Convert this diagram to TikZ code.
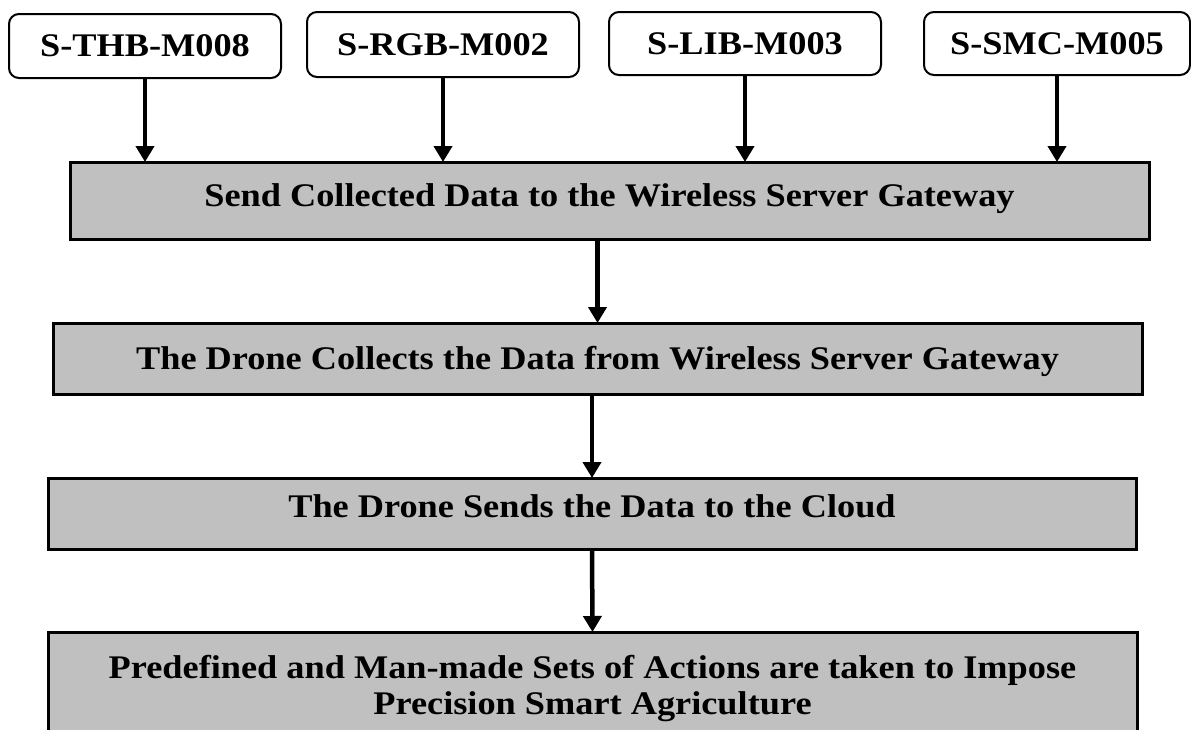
\documentclass[tikz,border=0pt]{standalone}
\usepackage{fontspec}
\setmainfont[FakeStretch=1.1]{Liberation Serif}
\usetikzlibrary{arrows.meta}
\begin{document}
\begin{tikzpicture}[x=1pt,y=-1pt,
  every node/.style={font=\fontsize{33}{38}\selectfont\bfseries, inner sep=0pt, outer sep=0pt},
  sensor/.style={draw=black, line width=2pt, rounded corners=10pt, fill=white, minimum height=64pt},
  stage/.style={draw=black, line width=3pt, fill=graybox, align=center},
  arr/.style={line width=4.5pt, -{Triangle[width=18pt,length=16pt]}}]
\definecolor{graybox}{HTML}{C0C0C0}
\useasboundingbox (0,0) rectangle (1191,729);
\fill[white] (0,0) rectangle (1191,729);
% sensor boxes
\node[sensor, minimum width=272pt] (t1) at (145,46) {S-THB-M008};
\node[sensor, minimum width=272pt, minimum height=65pt] (t2) at (443,44.5) {S-RGB-M002};
\node[sensor, minimum width=272pt, minimum height=63pt] (t3) at (745,43.5) {S-LIB-M003};
\node[sensor, minimum width=266pt, minimum height=63pt] (t4) at (1057,43.5) {S-SMC-M005};
% stage boxes
\node[stage, minimum width=1079pt, minimum height=77pt] (g1) at (609.5,200.5) {\raisebox{-5.5pt}[0pt][0pt]{Send Collected Data to the Wireless Server Gateway}};
\node[stage, minimum width=1089pt, minimum height=71pt] (g2) at (597.5,358.5) {\raisebox{-10.5pt}[0pt][0pt]{The Drone Collects the Data from Wireless Server Gateway}};
\node[stage, minimum width=1088pt, minimum height=71pt] (g3) at (592,513.5) {\raisebox{-4pt}[0pt][0pt]{The Drone Sends the Data to the Cloud}};
\node[stage, minimum width=1089pt, minimum height=120pt] (g4) at (592.5,692) {\raisebox{14pt}[0pt][0pt]{\parbox[t]{1050pt}{\centering Predefined and Man-made Sets of Actions are taken to Impose\\[-2pt] Precision Smart Agriculture}}};
% connectors
\draw[arr] (t1.south) -- (t1.south |- g1.north);
\draw[arr] (t2.south) -- (t2.south |- g1.north);
\draw[arr] (t3.south) -- (t3.south |- g1.north);
\draw[arr] (t4.south) -- (t4.south |- g1.north);
\draw[arr] (g1.south -| g2.north) -- (g2.north);
\draw[arr] (g2.south -| g3.north) -- (g3.north);
\draw[arr] (g3.south) -- (g4.north);
\end{tikzpicture}
\end{document}
